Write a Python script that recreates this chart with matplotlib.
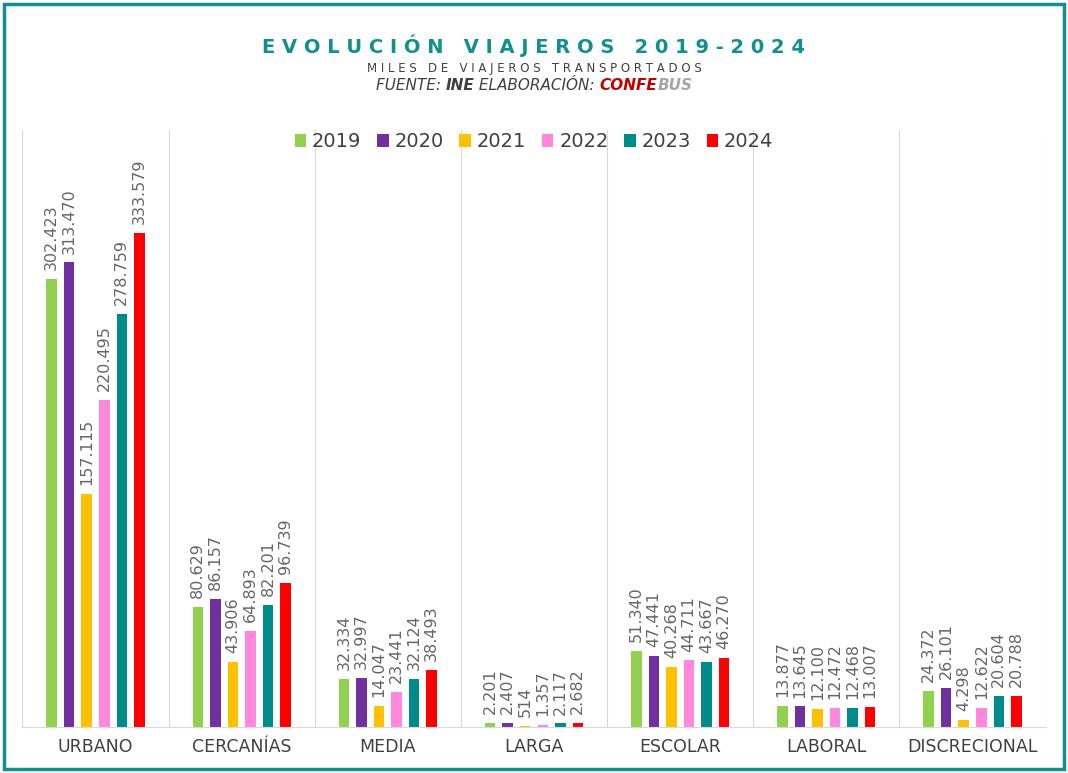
import matplotlib.pyplot as plt
import numpy as np
from matplotlib.patches import Rectangle

categories = ["URBANO", "CERCANÍAS", "MEDIA", "LARGA", "ESCOLAR", "LABORAL", "DISCRECIONAL"]
years = ["2019", "2020", "2021", "2022", "2023", "2024"]
v2019 = [302423, 80629, 32334, 2201, 51340, 13877, 24372]
v2020 = [313470, 86157, 32997, 2407, 47441, 13645, 26101]
v2021 = [157115, 43906, 14047, 514, 40268, 12100, 4298]
v2022 = [220495, 64893, 23441, 1357, 44711, 12472, 12622]
v2023 = [278759, 82201, 32124, 2117, 43667, 12468, 20604]
v2024 = [333579, 96739, 38493, 2682, 46270, 13007, 20788]
series = [v2019, v2020, v2021, v2022, v2023, v2024]
colors = ["#92D050", "#7030A0", "#FFC000", "#FF88DD", "#008B8B", "#FF0000"]

fig = plt.figure(figsize=(10.68, 7.73), dpi=100)
fig.patches.append(Rectangle((0.004, 0.005), 0.992, 0.99, transform=fig.transFigure,
                             fill=False, edgecolor="#12908E", linewidth=2.5))
ax = fig.add_axes([0.021, 0.06, 0.958, 0.772])

x = np.arange(len(categories))
w = 0.12
for i, (vals, c, yr) in enumerate(zip(series, colors, years)):
    pos = x + (i - 2.5) * w
    ax.bar(pos, vals, width=w * 0.6, color=c, label=yr)
    for p, v in zip(pos, vals):
        lab = f"{v:,}".replace(",", ".")
        ax.text(p, v + 6000, lab, rotation=90, ha="center", va="bottom",
                fontsize=11.5, color="#666666")

ax.set_xlim(-0.5, len(categories) - 0.5)
ax.set_ylim(0, 403000)
ax.set_xticks(x)
ax.set_xticklabels([" ".join(c) if False else c for c in categories], fontsize=12.5,
                   color="#404040")
ax.set_yticks([])
for k in range(len(categories) + 1):
    ax.axvline(k - 0.5, color="#D9D9D9", linewidth=0.8)
for s in ["top", "left", "right"]:
    ax.spines[s].set_visible(False)
ax.spines["bottom"].set_color("#D9D9D9")
ax.tick_params(axis="x", length=0, pad=8)

ax.legend(loc="upper center", bbox_to_anchor=(0.5, 1.025), ncol=6, frameon=False,
          fontsize=14, handlelength=0.6, handleheight=0.7, columnspacing=0.8,
          handletextpad=0.3, labelcolor="#404040")

fig.text(0.5, 0.932, "E V O L U C I Ó N   V I A J E R O S   2 0 1 9 - 2 0 2 4",
         ha="center", fontsize=14, fontweight="bold", color="#12908E")
fig.text(0.5, 0.907, "M I L E S   D E   V I A J E R O S   T R A N S P O R T A D O S",
         ha="center", fontsize=8.5, color="#404040")

# source line built from pieces
pieces = [("FUENTE: ", "normal", "#404040"), ("INE", "bold", "#404040"),
          (" ELABORACIÓN: ", "normal", "#404040"), ("CONFE", "bold", "#C00000"),
          ("BUS", "bold", "#A6A6A6")]
r = fig.canvas.get_renderer()
texts = []
for s, wt, c in pieces:
    t = fig.text(0, 0.884, s, fontsize=11, style="italic", fontweight=wt, color=c)
    texts.append(t)
widths = [t.get_window_extent(r).width for t in texts]
total = sum(widths)
xpix = fig.bbox.width / 2 - total / 2
for t, wd in zip(texts, widths):
    t.set_x(xpix / fig.bbox.width)
    xpix += wd

fig.savefig("out.png")
